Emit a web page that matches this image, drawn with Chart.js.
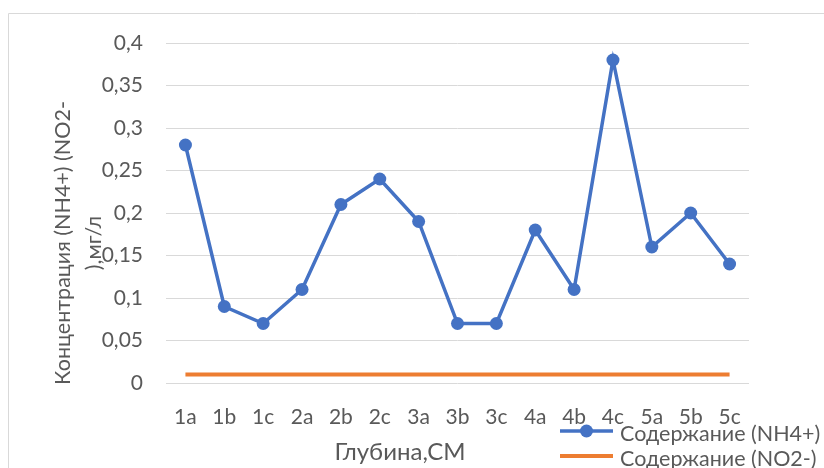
<!DOCTYPE html>
<html>
<head>
<meta charset="utf-8">
<script src="https://cdn.jsdelivr.net/npm/chart.js@4/dist/chart.umd.min.js"></script>
<style>
  html, body { margin: 0; padding: 0; background: #fff; }
  #wrap { width: 824px; height: 468px; position: relative; }
</style>
</head>
<body>
<div id="wrap"><canvas id="c" width="824" height="468"></canvas></div>
<script>
// Sample depths
const depths = ['1a','1b','1c','2a','2b','2c','3a','3b','3c','4a','4b','4c','5a','5b','5c'];
// Ammonium content, mg/l
const nh4 = [0.28, 0.09, 0.07, 0.11, 0.21, 0.24, 0.19, 0.07, 0.07, 0.18, 0.11, 0.38, 0.16, 0.20, 0.14];
// Nitrite content, mg/l
const no2 = [0.01, 0.01, 0.01, 0.01, 0.01, 0.01, 0.01, 0.01, 0.01, 0.01, 0.01, 0.01, 0.01, 0.01, 0.01];
// Axis texts
const yTitle = ['Концентрация (NH4+) (NO2-', '),мг/л'];
const xTitle = 'Глубина,СМ';
const seriesNames = ['Содержание (NH4+)', 'Содержание (NO2-)'];

const FONT = 'Lato, "Open Sans", sans-serif';
const TEXT = '#595959';
const BLUE = '#4472C4';
const ORANGE = '#ED7D31';

// Frame, axis titles and the legend drawn on the canvas
const decor = {
  id: 'decor',
  beforeDraw(chart) {
    const ctx = chart.ctx;
    ctx.save();
    ctx.strokeStyle = '#d9d9d9';
    ctx.lineWidth = 1;
    ctx.beginPath();
    ctx.moveTo(8.5, 468);
    ctx.lineTo(8.5, 13.5);
    ctx.lineTo(824, 13.5);
    ctx.stroke();
    ctx.restore();
  },
  afterDraw(chart) {
    const ctx = chart.ctx;
    ctx.save();
    ctx.fillStyle = TEXT;
    ctx.textAlign = 'center';
    ctx.textBaseline = 'middle';
    // y title
    ctx.font = '21.5px ' + FONT;
    ctx.translate(0, 243);
    ctx.rotate(-Math.PI / 2);
    ctx.fillText(yTitle[0], 0, 63);
    ctx.fillText(yTitle[1], 0, 94);
    ctx.setTransform(1, 0, 0, 1, 0, 0);
    // x title
    ctx.font = '24px ' + FONT;
    ctx.fillText(xTitle, 400, 452);
    // legend
    const ds = chart.data.datasets;
    const rows = [431, 456];
    ds.forEach((d, i) => {
      const y = rows[i];
      ctx.strokeStyle = d.borderColor;
      ctx.lineWidth = d.borderWidth;
      ctx.beginPath();
      ctx.moveTo(560, y);
      ctx.lineTo(613, y);
      ctx.stroke();
      if (d.pointRadius > 0) {
        ctx.fillStyle = d.pointBackgroundColor;
        ctx.beginPath();
        ctx.arc(586.5, y, d.pointRadius, 0, Math.PI * 2);
        ctx.fill();
      }
      ctx.fillStyle = TEXT;
      ctx.textAlign = 'left';
      ctx.font = '21.5px ' + FONT;
      ctx.fillText(d.label, 620, y + 3);
    });
    ctx.restore();
  }
};

new Chart(document.getElementById('c'), {
  type: 'line',
  data: {
    labels: depths,
    datasets: [
      {
        label: seriesNames[0],
        data: nh4,
        borderColor: BLUE,
        backgroundColor: BLUE,
        pointBackgroundColor: BLUE,
        pointBorderColor: BLUE,
        borderWidth: 3.5,
        pointRadius: 6.5,
        pointBorderWidth: 0,
        tension: 0
      },
      {
        label: seriesNames[1],
        data: no2,
        borderColor: ORANGE,
        backgroundColor: ORANGE,
        pointBackgroundColor: ORANGE,
        borderWidth: 4,
        pointRadius: 0,
        tension: 0
      }
    ]
  },
  options: {
    responsive: false,
    animation: false,
    devicePixelRatio: 1,
    layout: { padding: { top: 43, right: 75, bottom: 0, left: 0 } },
    plugins: {
      legend: { display: false },
      tooltip: { enabled: false }
    },
    scales: {
      x: {
        offset: true,
        grid: { display: false, drawTicks: false },
        border: { display: false },
        ticks: { color: TEXT, font: { family: FONT, size: 21 }, padding: 22, maxRotation: 0, autoSkip: false },
        afterFit(s) { s.height = 85; }
      },
      y: {
        min: 0,
        max: 0.4,
        grid: { color: '#d9d9d9', lineWidth: 1, drawTicks: false },
        border: { display: false },
        ticks: {
          stepSize: 0.05,
          color: TEXT,
          font: { family: FONT, size: 21 },
          padding: 23,
          callback: v => String(+v.toFixed(2)).replace('.', ',')
        },
        afterFit(s) { s.width = 166; }
      }
    }
  },
  plugins: [decor]
});
</script>
</body>
</html>
